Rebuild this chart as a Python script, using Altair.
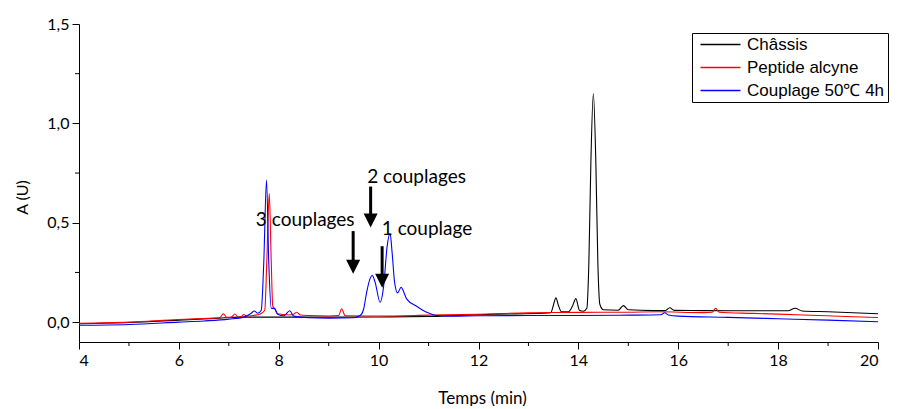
import altair as alt
import pandas as pd

# ---------------- data ----------------
series_names = ["Châssis", "Peptide alcyne", "Couplage 50℃ 4h"]
series_colors = ["#000000", "#ff0000", "#0000ff"]

chassis_t = [4.0, 5.0, 6.0, 6.8, 7.2, 8.0, 9.0, 10.0, 11.0, 11.6, 12.4, 13.3, 13.45,
             13.50, 13.55, 13.60, 13.66, 13.8, 13.88, 13.95, 14.02, 14.1, 14.17,
             14.21, 14.25, 14.30, 14.35, 14.39, 14.43, 14.5, 14.8, 14.9, 15.0,
             15.5, 15.74, 15.83, 15.92, 16.5, 17.5, 18.2, 18.34, 18.48, 19.0, 20.0]
chassis_a = [-0.008, -0.002, 0.010, 0.020, 0.025, 0.025, 0.025, 0.026, 0.028, 0.034, 0.040, 0.045, 0.048,
             0.085, 0.122, 0.085, 0.052, 0.052, 0.080, 0.118, 0.060, 0.055, 0.070,
             0.300, 0.800, 1.150, 0.800, 0.300, 0.090, 0.062, 0.060, 0.083, 0.062,
             0.058, 0.058, 0.072, 0.059, 0.058, 0.057, 0.057, 0.070, 0.056, 0.052, 0.042]

peptide_t = [4.0, 5.0, 6.0, 6.5, 6.82, 6.89, 6.96, 7.05, 7.12, 7.19, 7.25, 7.30, 7.36,
             7.5, 7.62, 7.72, 7.76, 7.81, 7.85, 7.88, 7.92, 7.97, 8.05, 8.2, 8.3,
             8.36, 8.43, 8.6, 9.0, 9.2, 9.26, 9.33, 10.0, 11.0, 12.0, 13.0, 14.0,
             15.0, 15.6, 16.5, 16.68, 16.75, 16.82, 17.5, 18.5, 19.5, 20.0]
peptide_a = [-0.006, 0.000, 0.013, 0.018, 0.022, 0.042, 0.024, 0.025, 0.041, 0.026, 0.028, 0.038, 0.030,
             0.034, 0.040, 0.060, 0.300, 0.648, 0.300, 0.080, 0.068, 0.042, 0.040, 0.036, 0.040,
             0.050, 0.036, 0.033, 0.031, 0.033, 0.067, 0.032, 0.031, 0.035, 0.040, 0.047, 0.049,
             0.050, 0.052, 0.048, 0.050, 0.070, 0.050, 0.044, 0.036, 0.027, 0.023]

couplage_t = [4.0, 5.0, 6.0, 6.5, 7.0, 7.3, 7.45, 7.51, 7.58, 7.65, 7.70, 7.755, 7.80,
              7.85, 7.92, 7.98, 8.1, 8.22, 8.3, 8.6, 9.0, 9.5, 9.63, 9.70, 9.76,
              9.83, 9.87, 9.93, 10.03, 10.10, 10.17, 10.23, 10.27, 10.32, 10.38, 10.45,
              10.56, 10.76, 10.96, 11.16, 11.5, 12.0, 13.0, 14.0, 15.0, 15.65, 15.73,
              15.8, 16.0, 17.0, 18.0, 19.0, 20.0]
couplage_a = [-0.016, -0.012, 0.000, 0.006, 0.015, 0.025, 0.045, 0.056, 0.045, 0.060, 0.300, 0.715, 0.300,
              0.070, 0.068, 0.040, 0.032, 0.057, 0.030, 0.022, 0.020, 0.022, 0.033, 0.066, 0.150,
              0.220, 0.236, 0.200, 0.100, 0.180, 0.380, 0.447, 0.350, 0.200, 0.147, 0.175,
              0.117, 0.080, 0.050, 0.033, 0.030, 0.032, 0.033, 0.033, 0.035, 0.037, 0.047,
              0.036, 0.030, 0.024, 0.017, 0.010, 0.002]

# annotations
arrow_x = [9.84, 9.49, 10.07]
arrow_top = [0.682, 0.458, 0.382]
arrow_tip = [0.476, 0.244, 0.173]
label_text = ["2 couplages", "3 couplages", "1 couplage"]
label_x = [10.76, 8.53, 10.97]
label_y = [0.70, 0.486, 0.436]

x_major = [4, 6, 8, 10, 12, 14, 16, 18, 20]
x_minor = [5, 7, 9, 11, 13, 15, 17, 19]
y_major = [0.0, 0.5, 1.0, 1.5]
y_minor = [0.25, 0.75, 1.25]

# ---------------- tables ----------------
frames = []
for k, (name, ts, vs) in enumerate(zip(series_names, [chassis_t, peptide_t, couplage_t],
                                       [chassis_a, peptide_a, couplage_a])):
    frames.append(pd.DataFrame({"t": ts, "a": vs, "serie": name, "k": k}))
df = pd.concat(frames, ignore_index=True)

arrows = pd.DataFrame({"x": arrow_x, "top": arrow_top, "tip": arrow_tip})
labels = pd.DataFrame({"x": label_x, "y": label_y, "text": label_text})

FONT = "Lato"
xscale = alt.Scale(domain=[4, 20], nice=False, zero=False)
yscale = alt.Scale(domain=[-0.1, 1.5], nice=False, zero=False)
cscale = alt.Scale(domain=series_names, range=series_colors)

x_axis = alt.Axis(values=x_major, title="Temps (min)", labelFont=FONT, labelFontSize=16,
                  titleFont=FONT, titleFontSize=17, titleFontWeight="normal",
                  titleX=403, titleY=61, titleBaseline="alphabetic",
                  titleAlign="center", labelPadding=3, format="d")
y_axis = alt.Axis(values=y_major, title="A (U)", labelFont=FONT, labelFontSize=16,
                  labelExpr="replace(format(datum.value, '.1f'), '.', ',')",
                  titleFont=FONT, titleFontSize=16, titleFontWeight="normal",
                  titleX=-57, titleY=173, titleAlign="center", titleBaseline="middle",
                  titleAngle=-90, labelPadding=3)

legend = alt.Legend(title=None, orient="none", legendX=613, legendY=9, padding=3,
                    strokeColor="black", fillColor="white", cornerRadius=0,
                    labelFont="Liberation Sans", labelFontSize=17, labelColor="black",
                    symbolType="M-0.6,0H7.4", symbolSize=100, symbolStrokeWidth=1.3,
                    rowPadding=5, labelOffset=35)

lines = alt.Chart(df).mark_line(strokeWidth=1.1, interpolate="monotone").encode(
    x=alt.X("t:Q", scale=xscale, axis=x_axis),
    y=alt.Y("a:Q", scale=yscale, axis=y_axis),
    color=alt.Color("serie:N", scale=cscale, legend=legend, sort=series_names),
)

minor_x = alt.Chart(pd.DataFrame({"v": x_minor})).mark_rule(color="black", strokeWidth=1).encode(
    x=alt.X("v:Q", scale=xscale, axis=x_axis), y=alt.value(318), y2=alt.value(322))
minor_y = alt.Chart(pd.DataFrame({"v": y_minor})).mark_rule(color="black", strokeWidth=1).encode(
    y=alt.Y("v:Q", scale=yscale, axis=y_axis), x=alt.value(0), x2=alt.value(-4))

shafts = alt.Chart(arrows).mark_rule(color="black", strokeWidth=3, y2Offset=-8).encode(
    x=alt.X("x:Q", scale=xscale, axis=x_axis),
    y=alt.Y("top:Q", scale=yscale, axis=y_axis), y2="tip:Q")
heads = alt.Chart(arrows).mark_point(shape="M-1,-1L1,-1L0,1Z", filled=True, size=196,
                                     color="black", opacity=1, yOffset=-7, strokeWidth=0).encode(
    x=alt.X("x:Q", scale=xscale, axis=x_axis),
    y=alt.Y("tip:Q", scale=yscale, axis=y_axis))
texts = alt.Chart(labels).mark_text(font=FONT, fontSize=19, color="black", align="center",
                                    baseline="alphabetic").encode(
    x=alt.X("x:Q", scale=xscale, axis=x_axis),
    y=alt.Y("y:Q", scale=yscale, axis=y_axis), text="text:N")

chart = alt.layer(lines, minor_x, minor_y, shafts, heads, texts).properties(
    width=799, height=318,
    padding={"left": 71, "top": 16, "right": 12, "bottom": 64},
    autosize=alt.AutoSizeParams(type="none"),
).configure_view(stroke=None).configure_axis(
    grid=False, tickColor="black", domainColor="black", tickSize=7, tickWidth=1,
    domainWidth=1, labelColor="black", titleColor="black",
)

chart.save("out.html", embed_options={"renderer": "svg", "actions": False})
